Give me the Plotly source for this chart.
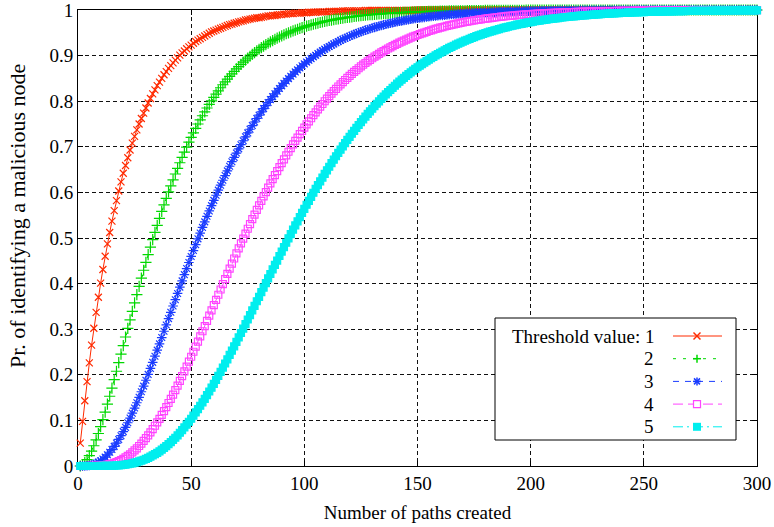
import plotly.graph_objects as go

# ---------------- data ----------------
threshold_labels = ["Threshold value: 1", "2", "3", "4", "5"]
x_ticks = [0, 50, 100, 150, 200, 250, 300]
y_ticks = [0, 0.1, 0.2, 0.3, 0.4, 0.5, 0.6, 0.7, 0.8, 0.9, 1]
y_tick_text = ["0", "0.1", "0.2", "0.3", "0.4", "0.5", "0.6", "0.7", "0.8", "0.9", "1"]
x_title = "Number of paths created"
y_title = "Pr. of identifying a malicious node"

# probability values for paths created = 1, 2, ..., 300
thr1 = [
.050,.098,.143,.185,.226,.265,.302,.337,.370,.401,
.431,.460,.487,.512,.537,.560,.582,.603,.623,.642,
.659,.676,.693,.708,.723,.737,.750,.762,.774,.785,
.796,.806,.816,.825,.834,.842,.850,.858,.865,.872,
.878,.884,.890,.895,.901,.906,.910,.915,.919,.923,
.927,.931,.934,.937,.940,.943,.946,.949,.952,.954,
.956,.958,.960,.962,.964,.966,.968,.969,.971,.972,
.974,.975,.976,.978,.979,.980,.981,.982,.983,.983,
.984,.985,.986,.987,.987,.988,.988,.989,.990,.990,
.991,.991,.992,.992,.992,.993,.993,.993,.994,.994,
.994,.995,.995,.995,.995,.996,.996,.996,.996,.996,
.997,.997,.997,.997,.997,.997,.998,.998,.998,.998,
.998,.998,.998,.998,.998,.998,.999,.999,.999,.999,
.999,.999,.999,.999,.999,.999,.999,.999,.999,.999,
.999,.999,.999,.999,.999,.999,.999,.999,1,1,
1,1,1,1,1,1,1,1,1,1, 1,1,1,1,1,1,1,1,1,1,
1,1,1,1,1,1,1,1,1,1, 1,1,1,1,1,1,1,1,1,1,
1,1,1,1,1,1,1,1,1,1, 1,1,1,1,1,1,1,1,1,1,
1,1,1,1,1,1,1,1,1,1, 1,1,1,1,1,1,1,1,1,1,
1,1,1,1,1,1,1,1,1,1, 1,1,1,1,1,1,1,1,1,1,
1,1,1,1,1,1,1,1,1,1, 1,1,1,1,1,1,1,1,1,1,
1,1,1,1,1,1,1,1,1,1, 1,1,1,1,1,1,1,1,1,1,
1,1,1,1,1,1,1,1,1,1,
]

thr2 = [
0,.0025,.0072,.0140,.0226,.0328,.0444,.0573,.0713,.0862,
.1019,.1183,.1355,.1530,.1709,.1893,.2078,.2265,.2452,.2641,
.2829,.3019,.3205,.3391,.3576,.3759,.3940,.4118,.4293,.4466,
.4634,.4801,.4964,.5124,.5279,.5432,.5582,.5728,.5870,.6010,
.6144,.6276,.6404,.6528,.6650,.6768,.6883,.6994,.7101,.7206,
.7307,.7405,.7500,.7592,.7681,.7767,.7851,.7931,.8009,.8084,
.8157,.8227,.8295,.8361,.8424,.8485,.8544,.8601,.8655,.8708,
.8759,.8808,.8855,.8900,.8944,.8986,.9027,.9066,.9104,.9139,
.9174,.9208,.9240,.9271,.9300,.9329,.9357,.9383,.9408,.9433,
.9456,.9479,.9500,.9521,.9541,.9560,.9578,.9596,.9613,.9629,
.9645,.9660,.9674,.9688,.9701,.9714,.9726,.9737,.9749,.9759,
.9770,.9779,.9789,.9798,.9807,.9815,.9823,.9830,.9838,.9845,
.9851,.9858,.9864,.9870,.9876,.9881,.9886,.9891,.9896,.9900,
.9905,.9909,.9913,.9917,.9920,.9924,.9927,.9930,.9933,.9936,
.9939,.9942,.9944,.9947,.9949,.9951,.9954,.9956,.9958,.9959,
.9961,.9963,.9965,.9966,.9968,.9969,.9971,.9972,.9973,.9974,
.9975,.9977,.9978,.9979,.9980,.9980,.9981,.9982,.9983,.9984,
.9984,.9985,.9986,.9986,.9987,.9988,.9988,.9989,.9989,.9990,
.9990,.9991,.9991,.9991,.9992,.9992,.9993,.9993,.9993,.9994,
.9994,.9994,.9994,.9995,.9995,.9995,.9995,.9996,.9996,.9996,
.9997,.9997,.9997,.9997,.9997,.9997,.9997,.9997,.9997,.9997,
.9998,.9998,.9998,.9998,.9998,.9998,.9998,.9998,.9998,.9998,
.9998,.9998,.9998,.9998,.9998,.9999,.9999,.9999,.9999,.9999,
.9999,.9999,.9999,.9999,.9999,.9999,.9999,.9999,.9999,.9999,
.9999,.9999,.9999,.9999,.9999,.9999,.9999,.9999,.9999,.9999,
1,1,1,1,1,1,1,1,1,1, 1,1,1,1,1,1,1,1,1,1,
1,1,1,1,1,1,1,1,1,1, 1,1,1,1,1,1,1,1,1,1,
1,1,1,1,1,1,1,1,1,1,
]

thr3 = [
0,0,.0001,.0005,.0012,.0023,.0038,.0058,.0084,.0115,
.0152,.0195,.0246,.0301,.0361,.0430,.0503,.0582,.0664,.0754,
.0848,.0949,.1051,.1159,.1271,.1387,.1506,.1628,.1752,.1880,
.2008,.2140,.2273,.2408,.2541,.2678,.2817,.2955,.3093,.3233,
.3371,.3509,.3647,.3784,.3923,.4060,.4196,.4330,.4463,.4595,
.4725,.4854,.4982,.5108,.5232,.5354,.5476,.5593,.5710,.5825,
.5938,.6049,.6158,.6266,.6370,.6472,.6574,.6673,.6768,.6863,
.6955,.7046,.7133,.7219,.7304,.7385,.7466,.7544,.7621,.7693,
.7766,.7837,.7905,.7972,.8036,.8100,.8162,.8221,.8279,.8336,
.8390,.8444,.8495,.8546,.8595,.8642,.8687,.8732,.8776,.8817,
.8858,.8897,.8935,.8973,.9008,.9043,.9076,.9108,.9141,.9170,
.9200,.9228,.9256,.9283,.9309,.9333,.9358,.9380,.9403,.9425,
.9446,.9466,.9486,.9505,.9523,.9541,.9558,.9574,.9590,.9605,
.9620,.9634,.9648,.9661,.9674,.9686,.9698,.9709,.9720,.9731,
.9741,.9752,.9761,.9770,.9779,.9787,.9796,.9804,.9812,.9818,
.9825,.9832,.9839,.9845,.9852,.9857,.9863,.9868,.9873,.9878,
.9883,.9888,.9892,.9897,.9901,.9904,.9908,.9912,.9915,.9919,
.9922,.9925,.9928,.9931,.9934,.9937,.9939,.9942,.9944,.9946,
.9948,.9951,.9952,.9954,.9956,.9958,.9960,.9961,.9963,.9965,
.9966,.9967,.9968,.9970,.9971,.9972,.9973,.9975,.9976,.9977,
.9978,.9979,.9979,.9980,.9981,.9982,.9983,.9983,.9984,.9985,
.9985,.9986,.9987,.9987,.9988,.9988,.9989,.9989,.9990,.9990,
.9990,.9991,.9991,.9992,.9992,.9992,.9993,.9993,.9993,.9994,
.9994,.9994,.9994,.9995,.9995,.9995,.9995,.9995,.9996,.9996,
.9996,.9996,.9996,.9996,.9996,.9996,.9997,.9997,.9997,.9997,
.9997,.9997,.9997,.9997,.9997,.9997,.9998,.9998,.9998,.9998,
.9998,.9998,.9998,.9998,.9998,.9998,.9998,.9998,.9999,.9999,
.9999,.9999,.9999,.9999,.9999,.9999,.9999,.9999,.9999,.9999,
.9999,.9999,.9999,.9999,.9999,1,1,1,1,1,
1,1,1,1,1,1,1,1,1,1,
]

thr4 = [
0,0,0,0,0,.0001,.0002,.0004,.0006,.0010,
.0016,.0022,.0031,.0042,.0055,.0070,.0088,.0109,.0131,.0158,
.0187,.0223,.0257,.0297,.0341,.0388,.0439,.0492,.0549,.0610,
.0672,.0739,.0809,.0883,.0956,.1035,.1119,.1204,.1290,.1382,
.1473,.1567,.1664,.1762,.1866,.1969,.2074,.2180,.2287,.2396,
.2506,.2617,.2729,.2842,.2955,.3068,.3184,.3296,.3411,.3527,
.3641,.3756,.3871,.3987,.4100,.4212,.4327,.4440,.4550,.4662,
.4772,.4882,.4988,.5095,.5203,.5306,.5412,.5514,.5617,.5714,
.5814,.5913,.6008,.6104,.6196,.6289,.6380,.6467,.6555,.6642,
.6726,.6810,.6891,.6972,.7051,.7128,.7202,.7277,.7351,.7421,
.7491,.7559,.7626,.7693,.7756,.7819,.7879,.7939,.7999,.8055,
.8111,.8165,.8219,.8271,.8322,.8370,.8419,.8465,.8511,.8556,
.8600,.8642,.8683,.8723,.8762,.8801,.8838,.8873,.8908,.8942,
.8976,.9007,.9039,.9069,.9099,.9127,.9156,.9182,.9208,.9234,
.9259,.9284,.9307,.9330,.9352,.9373,.9394,.9414,.9434,.9452,
.9470,.9488,.9506,.9522,.9539,.9554,.9569,.9584,.9598,.9612,
.9625,.9638,.9650,.9663,.9675,.9685,.9696,.9707,.9717,.9727,
.9737,.9746,.9755,.9764,.9772,.9781,.9788,.9796,.9803,.9810,
.9816,.9824,.9829,.9835,.9841,.9847,.9853,.9858,.9864,.9869,
.9873,.9878,.9882,.9887,.9891,.9894,.9898,.9903,.9906,.9910,
.9913,.9916,.9919,.9922,.9925,.9928,.9931,.9933,.9936,.9938,
.9940,.9943,.9945,.9947,.9949,.9951,.9953,.9955,.9956,.9958,
.9960,.9961,.9963,.9964,.9965,.9967,.9968,.9969,.9970,.9972,
.9973,.9974,.9975,.9976,.9977,.9978,.9978,.9979,.9980,.9981,
.9982,.9982,.9983,.9984,.9984,.9985,.9986,.9986,.9987,.9987,
.9988,.9988,.9989,.9989,.9990,.9990,.9990,.9991,.9991,.9991,
.9992,.9992,.9992,.9993,.9993,.9993,.9994,.9994,.9994,.9994,
.9995,.9995,.9995,.9995,.9995,.9996,.9996,.9996,.9996,.9996,
.9996,.9996,.9997,.9997,.9997,.9997,.9997,.9997,.9997,.9998,
.9998,.9998,.9998,.9998,.9998,.9998,.9998,.9998,.9998,.9998,
]

thr5 = [
0,0,0,0,0,0,0,0,0,.0001,
.0001,.0002,.0003,.0004,.0006,.0009,.0012,.0015,.0020,.0026,
.0032,.0041,.0049,.0059,.0072,.0086,.0102,.0118,.0137,.0157,
.0180,.0204,.0231,.0261,.0289,.0322,.0359,.0397,.0436,.0481,
.0524,.0571,.0620,.0671,.0729,.0786,.0846,.0907,.0970,.1036,
.1104,.1175,.1247,.1321,.1397,.1474,.1555,.1634,.1717,.1803,
.1888,.1976,.2065,.2158,.2248,.2339,.2435,.2530,.2624,.2722,
.2819,.2917,.3013,.3111,.3213,.3309,.3412,.3511,.3613,.3709,
.3811,.3913,.4011,.4113,.4210,.4311,.4411,.4506,.4605,.4703,
.4800,.4896,.4992,.5087,.5182,.5275,.5366,.5459,.5551,.5640,
.5729,.5816,.5904,.5992,.6076,.6160,.6242,.6324,.6406,.6485,
.6563,.6640,.6717,.6793,.6867,.6938,.7010,.7080,.7150,.7218,
.7286,.7351,.7415,.7478,.7541,.7603,.7663,.7720,.7778,.7834,
.7891,.7944,.7997,.8049,.8101,.8150,.8200,.8246,.8293,.8339,
.8384,.8429,.8471,.8513,.8554,.8593,.8633,.8671,.8708,.8744,
.8779,.8814,.8848,.8881,.8913,.8944,.8974,.9004,.9033,.9062,
.9089,.9116,.9141,.9168,.9193,.9216,.9239,.9262,.9284,.9306,
.9327,.9348,.9368,.9388,.9406,.9425,.9442,.9460,.9476,.9493,
.9508,.9524,.9538,.9553,.9567,.9581,.9594,.9607,.9621,.9633,
.9644,.9655,.9666,.9678,.9688,.9697,.9707,.9718,.9727,.9736,
.9744,.9753,.9761,.9769,.9776,.9784,.9791,.9798,.9805,.9811,
.9817,.9824,.9830,.9836,.9841,.9847,.9852,.9857,.9861,.9866,
.9871,.9875,.9880,.9884,.9887,.9892,.9895,.9899,.9902,.9906,
.9910,.9913,.9916,.9919,.9922,.9924,.9927,.9929,.9932,.9934,
.9937,.9939,.9941,.9943,.9945,.9947,.9949,.9951,.9953,.9954,
.9956,.9958,.9959,.9961,.9962,.9963,.9965,.9966,.9967,.9968,
.9970,.9971,.9972,.9973,.9974,.9975,.9976,.9977,.9978,.9978,
.9980,.9980,.9981,.9981,.9982,.9983,.9984,.9984,.9984,.9985,
.9985,.9986,.9987,.9987,.9988,.9988,.9988,.9989,.9989,.9990,
.9990,.9991,.9991,.9991,.9992,.9992,.9992,.9992,.9993,.9993,
]

series = [thr1, thr2, thr3, thr4, thr5]

# ---------------- styles ----------------
colors = ["#ff2a00", "#00d800", "#1a3cff", "#ff44ff", "#00eeee"]
symbols = ["x-thin-open", "cross-thin-open", "asterisk-open", "square-open", "square"]
msizes = [7, 8, 8, 7, 7]
dashes = ["solid", "3px,7px", "6px,6px", "10px,5px", "10px,4px,2px,4px"]
FONT = "Liberation Serif"

fig = go.Figure()
for ys, col, sym, ms, dsh in zip(series, colors, symbols, msizes, dashes):
    fig.add_trace(go.Scatter(
        x=list(range(1, len(ys) + 1)), y=ys, mode="lines+markers",
        line=dict(color=col, width=1, dash=dsh),
        marker=dict(symbol=sym, size=ms, color=col, line=dict(color=col, width=1.2)),
        cliponaxis=False, showlegend=False, hoverinfo="skip"))

# plot-area pixel geometry (for the hand-drawn gnuplot-style key)
L, R, T, B = 78, 757, 10, 466
def px(x):
    return (x - L) / (R - L)
def py(y):
    return (B - y) / (B - T)

shapes = []
annotations = []
# key box
shapes.append(dict(type="rect", xref="paper", yref="paper", x0=px(495), x1=px(736),
                   y0=py(440), y1=py(318), fillcolor="white",
                   line=dict(color="black", width=1), layer="above"))
row_y = [336, 358.7, 381.4, 404.1, 426.8]
cx = 697
for i, (lab, col, dsh) in enumerate(zip(threshold_labels, colors, dashes)):
    yc = row_y[i]
    annotations.append(dict(xref="paper", yref="paper", x=px(656), y=py(yc),
                            xanchor="right", yanchor="middle", text=lab, showarrow=False,
                            font=dict(family=FONT, size=19, color="black")))
    shapes.append(dict(type="line", xref="paper", yref="paper", x0=px(673), x1=px(722),
                       y0=py(yc), y1=py(yc), line=dict(color=col, width=1, dash=dsh), layer="above"))
    segs = []
    if i == 0:
        segs = [(-3.5, -3.5, 3.5, 3.5), (-3.5, 3.5, 3.5, -3.5)]
    elif i == 1:
        segs = [(-4, 0, 4, 0), (0, -4, 0, 4)]
    elif i == 2:
        segs = [(-4, 0, 4, 0), (0, -4, 0, 4), (-3, -3, 3, 3), (-3, 3, 3, -3)]
    for a, b, c, d in segs:
        shapes.append(dict(type="line", xref="paper", yref="paper",
                           x0=px(cx + a), y0=py(yc + b), x1=px(cx + c), y1=py(yc + d),
                           line=dict(color=col, width=1.5), layer="above"))
    if i == 3:
        shapes.append(dict(type="rect", xref="paper", yref="paper",
                           x0=px(cx - 3.5), x1=px(cx + 3.5), y0=py(yc + 3.5), y1=py(yc - 3.5),
                           fillcolor="white", line=dict(color=col, width=1.2), layer="above"))
    if i == 4:
        shapes.append(dict(type="rect", xref="paper", yref="paper",
                           x0=px(cx - 4), x1=px(cx + 4), y0=py(yc + 4), y1=py(yc - 4),
                           fillcolor=col, line=dict(color=col, width=0), layer="above"))

# y-axis title (gnuplot style, placed as rotated text)
annotations.append(dict(xref="paper", yref="paper", x=px(18), y=py(216),
                        xanchor="center", yanchor="middle", textangle=-90,
                        text=y_title, showarrow=False,
                        font=dict(family=FONT, size=22, color="black")))

axis_common = dict(ticks="inside", ticklen=5, tickcolor="black", tickwidth=1,
                   showline=True, linecolor="black", linewidth=1, mirror="ticks",
                   showgrid=True, gridcolor="#111111", gridwidth=1, griddash="4px,3px",
                   zeroline=False, layer="below traces", ticklabeloverflow="allow",
                   tickfont=dict(family=FONT, size=19, color="black"))

fig.update_xaxes(range=[0, 300], tickvals=x_ticks, **axis_common,
                 title=dict(text=x_title, font=dict(family=FONT, size=19, color="black"), standoff=12))
fig.update_yaxes(range=[0, 1], tickvals=y_ticks, ticktext=y_tick_text, **axis_common)

fig.update_layout(width=774, height=527,
                  margin=dict(l=L, r=774 - R, t=T, b=527 - B, autoexpand=False),
                  paper_bgcolor="white", plot_bgcolor="white",
                  font=dict(family=FONT, size=19, color="black"),
                  shapes=shapes, annotations=annotations, showlegend=False)

fig.write_html("out.html", config={"displayModeBar": False, "staticPlot": True},
               post_script="document.body.style.margin='0px';document.body.style.overflow='hidden';")
